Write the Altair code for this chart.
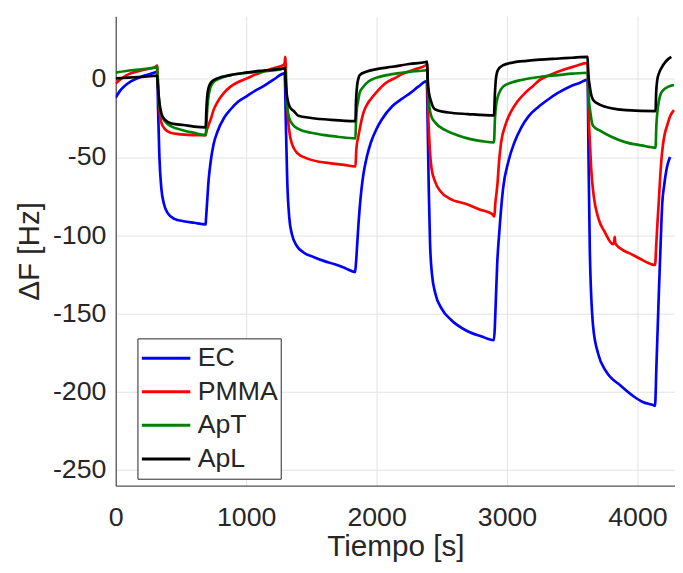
import altair as alt
import pandas as pd

series_names = ["EC", "PMMA", "ApT", "ApL"]
series_colors = ["#0000FF", "#FF0000", "#008000", "#000000"]

ec_t = [0, 30, 70, 120, 200, 280, 318,
        325, 335, 350, 370, 400, 450, 520, 600, 690,
        692, 700, 712, 728, 750, 779, 830, 880, 940, 1006, 1070, 1133, 1210, 1295,
        1305, 1315, 1330, 1350, 1390, 1440, 1520, 1600, 1680, 1760, 1835,
        1842, 1852, 1862, 1871, 1885, 1899, 1925, 1955, 2000, 2040, 2120, 2190, 2260, 2320, 2385,
        2392, 2400, 2410, 2425, 2450, 2500, 2570, 2690, 2800, 2900,
        2907, 2915, 2925, 2940, 2970, 3010, 3055, 3110, 3165, 3240, 3310, 3390, 3480, 3560, 3618,
        3625, 3635, 3660, 3700, 3760, 3870, 3980, 4040, 4120, 4135,
        4138, 4145, 4155, 4165, 4178, 4190, 4205, 4225, 4250]
ec_v = [-12, -8, -4.5, -1.5, 1.5, 3.5, 4.5,
        -20, -50, -70, -80, -86, -89.5, -91, -92, -93,
        -90, -80, -65, -53, -42, -34, -25, -19.6, -14.5, -11, -7.5, -4.7, -0.5, 3.5,
        -30, -65, -88, -99, -107, -111, -114, -116.5, -118.5, -121, -123.5,
        -118, -105, -92, -82, -70, -61, -50, -41, -32, -26, -17.5, -13, -9, -5, -1.5,
        -30, -70, -105, -125, -137, -147, -154, -161, -164.5, -167,
        -158, -140, -118, -99, -70, -53, -41, -31, -24, -18, -13.5, -9, -5, -2.5, -0.5,
        -50, -110, -158, -176, -187, -196, -203.5, -206.5, -208.5, -209,
        -205, -185, -160, -135, -105, -80, -68, -57, -50]

pmma_t = [0, 40, 100, 200, 300, 318,
          325, 335, 350, 376, 420, 500, 600, 690,
          695, 710, 728, 750, 779, 830, 880, 940, 1006, 1070, 1133, 1210, 1285, 1295, 1300, 1303,
          1310, 1320, 1340, 1370, 1400, 1470, 1560, 1650, 1750, 1838,
          1845, 1860, 1871, 1899, 1930, 1955, 2000, 2068, 2140, 2209, 2290, 2378, 2388,
          2395, 2405, 2421, 2450, 2491, 2560, 2689, 2790, 2887, 2903,
          2910, 2926, 2940, 2955, 2990, 3026, 3080, 3139, 3200, 3252, 3330, 3421, 3520, 3618,
          3625, 3635, 3645, 3665, 3700, 3750, 3812, 3822, 3826, 3830, 3870, 3953, 4020, 4093, 4135,
          4145, 4155, 4164, 4175, 4189, 4205, 4227, 4250, 4280]
pmma_v = [-3, 0, 3, 5.5, 7.5, 8.5,
          -5, -20, -28, -32, -34.5, -35.5, -36, -36,
          -34, -30, -26, -20, -15, -9, -5, -2, 0.3, 2.7, 4.7, 6.8, 8.7, 10, 14, 10,
          -10, -25, -38, -45, -48, -51, -53, -54, -55, -56,
          -45, -37, -32, -21.7, -16, -13, -8.5, -2.8, 0.5, 3.5, 6, 8.7, 9.5,
          -20, -40, -57, -66, -72, -76.5, -80, -83.5, -86.5, -88,
          -80, -68, -52, -40.6, -29, -21.7, -14.5, -9, -4.5, -0.7, 2.5, 5.5, 8, 10.2,
          -20, -40, -57, -75, -89, -98, -105.6, -104, -101, -105, -108.5, -112, -115, -118, -119,
          -105, -90, -78, -62, -47, -37, -30, -24, -20]

apt_t = [0, 80, 160, 250, 318,
         322, 330, 345, 376, 430, 500, 600, 690,
         695, 703, 716, 741, 790, 880, 1000, 1133, 1285, 1300,
         1305, 1315, 1330, 1360, 1400, 1500, 1600, 1700, 1838,
         1842, 1850, 1857, 1870, 1899, 1940, 1984, 2121, 2250, 2378, 2388,
         2393, 2405, 2420, 2450, 2520, 2620, 2720, 2820, 2900,
         2908, 2920, 2940, 2970, 3030, 3111, 3250, 3393, 3500, 3618,
         3625, 3640, 3659, 3710, 3800, 3912, 4030, 4139,
         4145, 4152, 4165, 4177, 4195, 4215, 4250, 4280]
apt_v = [4, 5, 5.8, 6.5, 7.3,
         0, -12, -22, -27, -30.5, -32.5, -34.5, -36,
         -30, -18, -9, -3, 0, 2.4, 3.8, 4.7, 6.6, 7,
         -5, -18, -25, -29.5, -32, -34.5, -36, -37, -38,
         -28, -18, -15, -9, -5, -1.5, 0.3, 3, 4.5, 5.5, 6,
         -5, -18, -24, -28, -32.5, -36, -38.5, -40, -40.6,
         -25, -15, -9, -5, -2.5, -0.7, 1.2, 2.4, 3.3, 3.9,
         -10, -22, -30, -33, -37, -40.6, -42.5, -44,
         -30, -21.7, -14, -10, -7.5, -6, -4.5, -3.9]

apl_t = [0, 100, 200, 290, 318,
         322, 335, 350, 376, 430, 520, 600, 690,
         695, 703, 716, 740, 779, 880, 1000, 1133, 1285, 1298,
         1303, 1315, 1335, 1370, 1400, 1500, 1650, 1838,
         1842, 1850, 1860, 1871, 1920, 2000, 2121, 2250, 2378, 2388,
         2392, 2400, 2420, 2450, 2550, 2700, 2900,
         2907, 2915, 2930, 2970, 3050, 3150, 3252, 3400, 3500, 3618,
         3622, 3635, 3659, 3710, 3800, 3912, 4139,
         4143, 4152, 4165, 4189, 4215, 4240, 4260]
apl_v = [0.3, 0.8, 1.3, 1.8, 2,
         -3, -15, -22, -26, -28.5, -29.5, -30.5, -31,
         -20, -10, -4.7, -1.5, 0.3, 2.4, 4, 5.3, 6.6, 7,
         -2, -12, -18, -21, -23.6, -25, -26.2, -27,
         -15, -5, 0, 2.4, 4.5, 6.2, 7.7, 9.5, 10.8, 11,
         0, -8, -15, -19.6, -21.5, -22.5, -23.4,
         -10, 0, 5.5, 8.7, 10.5, 11.5, 12.3, 13, 13.5, 14,
         5, -5, -13.3, -16.5, -18.8, -20, -20.6,
         -10, -0.7, 3.5, 7.7, 10.8, 12.9, 14]

x_ticks = [0, 1000, 2000, 3000, 4000]
y_ticks = [0, -50, -100, -150, -200, -250]

rows = []
for name, ts, vs in zip(series_names, [ec_t, pmma_t, apt_t, apl_t], [ec_v, pmma_v, apt_v, apl_v]):
    for t, v in zip(ts, vs):
        rows.append({"Tiempo": t, "dF": v, "Serie": name})
df = pd.DataFrame(rows)
df["orden"] = df["Serie"].map({n: i for i, n in enumerate(series_names)})

FONT = "Liberation Sans"
TXT = "#262626"

chart = alt.Chart(df).mark_line(strokeWidth=2.7, interpolate="monotone", clip=True).encode(
    x=alt.X("Tiempo:Q", scale=alt.Scale(domain=[0, 4288], nice=False, zero=False),
            axis=alt.Axis(values=x_ticks, title="Tiempo [s]", labelExpr="'' + datum.value",
                          labelPadding=19, titlePadding=2, labelFlush=False)),
    y=alt.Y("dF:Q", scale=alt.Scale(domain=[-260, 40], nice=False),
            axis=alt.Axis(values=y_ticks, title="ΔF [Hz]", labelExpr="'' + datum.value",
                          labelPadding=10, titlePadding=8)),
    color=alt.Color("Serie:N", scale=alt.Scale(domain=series_names, range=series_colors),
                    legend=alt.Legend(title=None, orient="none", legendX=22, legendY=326,
                                      symbolType="stroke", symbolSize=2401, symbolStrokeWidth=3,
                                      labelFontSize=27, labelFont=FONT, labelColor=TXT,
                                      padding=3, rowPadding=0, labelOffset=6, clipHeight=34,
                                      strokeColor=TXT, fillColor="white")),
    detail="Serie:N",
    order="orden:Q",
).properties(
    width=566, height=475,
    autosize=alt.AutoSizeParams(type="none"),
    padding={"left": 109, "top": 5, "right": 0, "bottom": 80},
).configure_view(stroke=None).configure_axis(
    labelFont=FONT, titleFont=FONT, labelFontSize=27, titleFontSize=30,
    labelColor=TXT, titleColor=TXT, titleFontWeight="normal",
    domainColor=TXT, domainWidth=1, tickSize=0,
    gridColor="#e3e3e3", gridWidth=1,
)

chart.save("out.html", embed_options={"renderer": "svg", "actions": False})
